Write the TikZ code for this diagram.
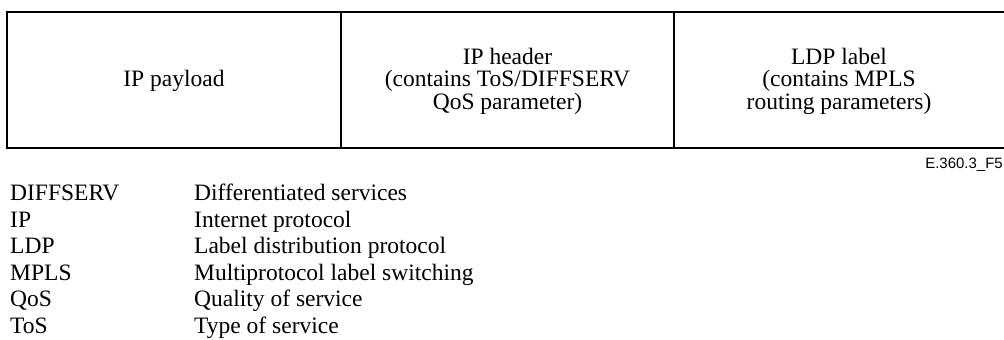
\documentclass[tikz,border=0pt]{standalone}
\usepackage{fontspec}
\setmainfont{Liberation Serif}
\newfontfamily\figsans{Liberation Sans}
\begin{document}
\begin{tikzpicture}[x=1pt,y=-1pt,
  cell/.style={align=center,inner sep=0pt,font=\fontsize{23.5}{22.5}\selectfont},
  term/.style={anchor=base west,inner sep=0pt,font=\fontsize{23.5}{26.5}\selectfont},
  frame/.style={line width=1.5pt,draw=black}]
\useasboundingbox (0,0) rectangle (1004,340);
\begin{scope}
\clip (0,0) rectangle (1004,340);
\draw[frame] (7,12) rectangle (1012,148);
\draw[frame] (341,12) -- (341,148);
\draw[frame] (674,12) -- (674,148);
\end{scope}
\node[anchor=base east,inner sep=0pt,font=\figsans\fontsize{15}{18}\selectfont] (fig) at (1003,168) {E.360.3\_F5};
\node[cell] (payload) at (174,81) {IP payload};
\node[cell] (header) at (507.5,81) {IP header\\(contains ToS/DIFFSERV\\QoS parameter)};
\node[cell] (ldp) at (839,81) {LDP label\\(contains MPLS\\routing parameters)};
\foreach \t/\d [count=\i from 0] in {DIFFSERV/Differentiated services,IP/Internet protocol,LDP/Label distribution protocol,MPLS/Multiprotocol label switching,QoS/Quality of service,ToS/Type of service}{
  \node[term] (t\i) at (10,200.7+26.5*\i) {\t};
  \node[term] (d\i) at (194,200.7+26.5*\i) {\d};
}
\end{tikzpicture}
\end{document}
